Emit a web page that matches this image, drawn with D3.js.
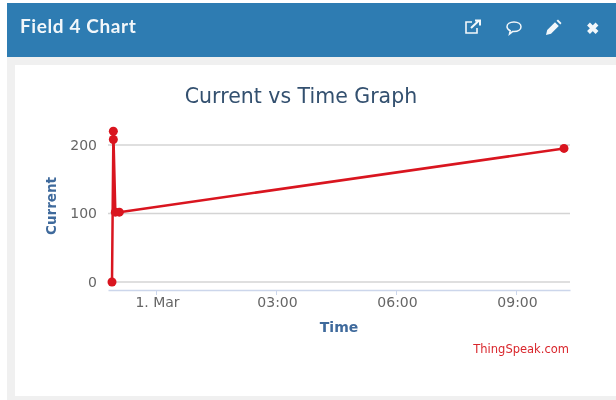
<!DOCTYPE html>
<html>
<head>
<meta charset="utf-8">
<title>Field 4 Chart</title>
<script src="https://cdn.jsdelivr.net/npm/d3@7/dist/d3.min.js"></script>
<style>
    html, body { margin: 0; padding: 0; background: #fff; }
    svg { display: block; filter: blur(0.4px); }
</style>
</head>
<body>
<svg id="chart" width="616" height="400"></svg>
<script>
(function () {

    // values
    let times = [
        "2020-02-29T22:54Z",
        "2020-02-29T22:56Z",
        "2020-02-29T22:56Z",
        "2020-02-29T22:59Z",
        "2020-02-29T23:05Z",
        "2020-03-01T10:12Z"
    ];
    let current = [0, 208, 220, 102, 102, 195];
    let yTicks = [0, 100, 200];
    let xTicks = [
        "2020-03-01T00:00Z",
        "2020-03-01T03:00Z",
        "2020-03-01T06:00Z",
        "2020-03-01T09:00Z"
    ];
    let xTickLabels = ["1. Mar", "03:00", "06:00", "09:00"];
    let xDomain = ["2020-02-29T22:48Z", "2020-03-01T10:21Z"];

    let font = "'DejaVu Sans', sans-serif";
    let canvas = d3.select("#chart");

    // panel
    canvas.append("rect").attr("x", 7).attr("y", 3).attr("width", 609).attr("height", 397).attr("fill", "#f0f0f0");
    canvas.append("rect").attr("x", 15).attr("y", 65).attr("width", 601).attr("height", 331).attr("fill", "#ffffff");
    canvas.append("rect").attr("x", 7).attr("y", 3).attr("width", 609).attr("height", 54).attr("fill", "#2e7cb2");
    canvas.append("text")
        .attr("x", 20).attr("y", 33)
        .attr("font-family", "Lato, sans-serif")
        .attr("font-weight", 700)
        .attr("font-size", 19)
        .attr("letter-spacing", 0.6)
        .attr("fill", "#f2f7fa")
        .text("Field 4 Chart");

    // header icons
    let icons = canvas.append("g").attr("fill", "none").attr("stroke", "#f2f7fa");
    icons.append("path").attr("stroke-width", 1.6)
        .attr("d", "M477 28v5h-11v-11h6");
    icons.append("path").attr("stroke-width", 2)
        .attr("d", "M471 28l8-7.500M475 20.500h5v5");
    icons.append("path").attr("stroke-width", 1.5)
        .attr("d", "M514 22c4.200 0 7 2.100 7 4.800s-2.800 4.800-7 4.800h-1.500l-3 2.400 .7-3.300c-1.900-.9-3.200-2.300-3.200-3.900 0-2.700 2.800-4.800 7-4.800z");
    icons.append("path").attr("fill", "#f2f7fa").attr("stroke", "none")
        .attr("d", "M546 35l1.200-5 7.800-7.800 3.800 3.800-7.800 7.800zM556.500 20.700l1.500-1.200 3.500 3.500-1.200 1.500z");
    icons.append("path").attr("stroke-width", 4)
        .attr("d", "M588.500 24l8.500 8.500M597 24l-8.500 8.500");

    let xScale = d3.scaleUtc()
        .domain(xDomain.map(d => new Date(d)))
        .range([108, 570]);

    let yScale = d3.scaleLinear()
        .domain([0, 200])
        .range([282, 145]);

    let fmtLabel = d => xTickLabels[xTicks.indexOf(d.toISOString().replace(":00.000Z", "Z"))];

    // grid
    canvas.append("g").selectAll("line").data(yTicks).enter().append("line")
        .attr("x1", 108).attr("x2", 570)
        .attr("y1", d => yScale(d)).attr("y2", d => yScale(d))
        .attr("stroke", "#d4d4d4").attr("stroke-width", 1.5);

    // axes
    let xAxis = d3.axisBottom(xScale)
        .tickValues(xTicks.map(d => new Date(d)))
        .tickFormat(fmtLabel)
        .tickSize(5)
        .tickSizeOuter(0);
    let gx = canvas.append("g").attr("transform", "translate(0, 290)").call(xAxis);
    gx.select(".domain").attr("stroke", "#ccd6eb").attr("stroke-width", 1.5);
    gx.selectAll(".tick line").attr("stroke", "#ccd6eb");
    gx.selectAll(".tick text")
        .attr("y", 7)
        .attr("dx", 1)
        .attr("font-family", font).attr("font-size", 14).attr("fill", "#666666");

    let yAxis = d3.axisLeft(yScale).tickValues(yTicks).tickSize(0).tickPadding(11);
    let gy = canvas.append("g").attr("transform", "translate(108, 0)").call(yAxis);
    gy.select(".domain").remove();
    gy.selectAll(".tick text")
        .attr("font-family", font).attr("font-size", 14).attr("fill", "#666666");

    // titles
    canvas.append("text")
        .attr("x", 301).attr("y", 103)
        .attr("text-anchor", "middle")
        .attr("font-family", font).attr("font-size", 20.5).attr("fill", "#33506f")
        .text("Current vs Time Graph");
    canvas.append("text")
        .attr("x", 339).attr("y", 332)
        .attr("text-anchor", "middle")
        .attr("font-family", font).attr("font-weight", 700).attr("font-size", 14).attr("fill", "#3f6a9c")
        .text("Time");
    canvas.append("text")
        .attr("transform", "translate(56, 206) rotate(-90)")
        .attr("text-anchor", "middle")
        .attr("font-family", font).attr("font-weight", 700).attr("font-size", 13.5).attr("fill", "#3f6a9c")
        .text("Current");
    canvas.append("text")
        .attr("x", 569).attr("y", 353)
        .attr("text-anchor", "end")
        .attr("font-family", font).attr("font-size", 11.5).attr("fill", "#d9262c")
        .text("ThingSpeak.com");

    // series
    let points = times.map((t, i) => ({ time: new Date(t), value: current[i] }));
    let line = d3.line().x(d => xScale(d.time)).y(d => yScale(d.value));
    canvas.append("path").datum(points)
        .attr("d", line)
        .attr("fill", "none")
        .attr("stroke", "#d9151f")
        .attr("stroke-width", 2.5);
    canvas.append("g").selectAll("circle").data(points).enter().append("circle")
        .attr("cx", d => xScale(d.time))
        .attr("cy", d => yScale(d.value))
        .attr("r", 4.5)
        .attr("fill", "#d9151f");

})();
</script>
</body>
</html>
